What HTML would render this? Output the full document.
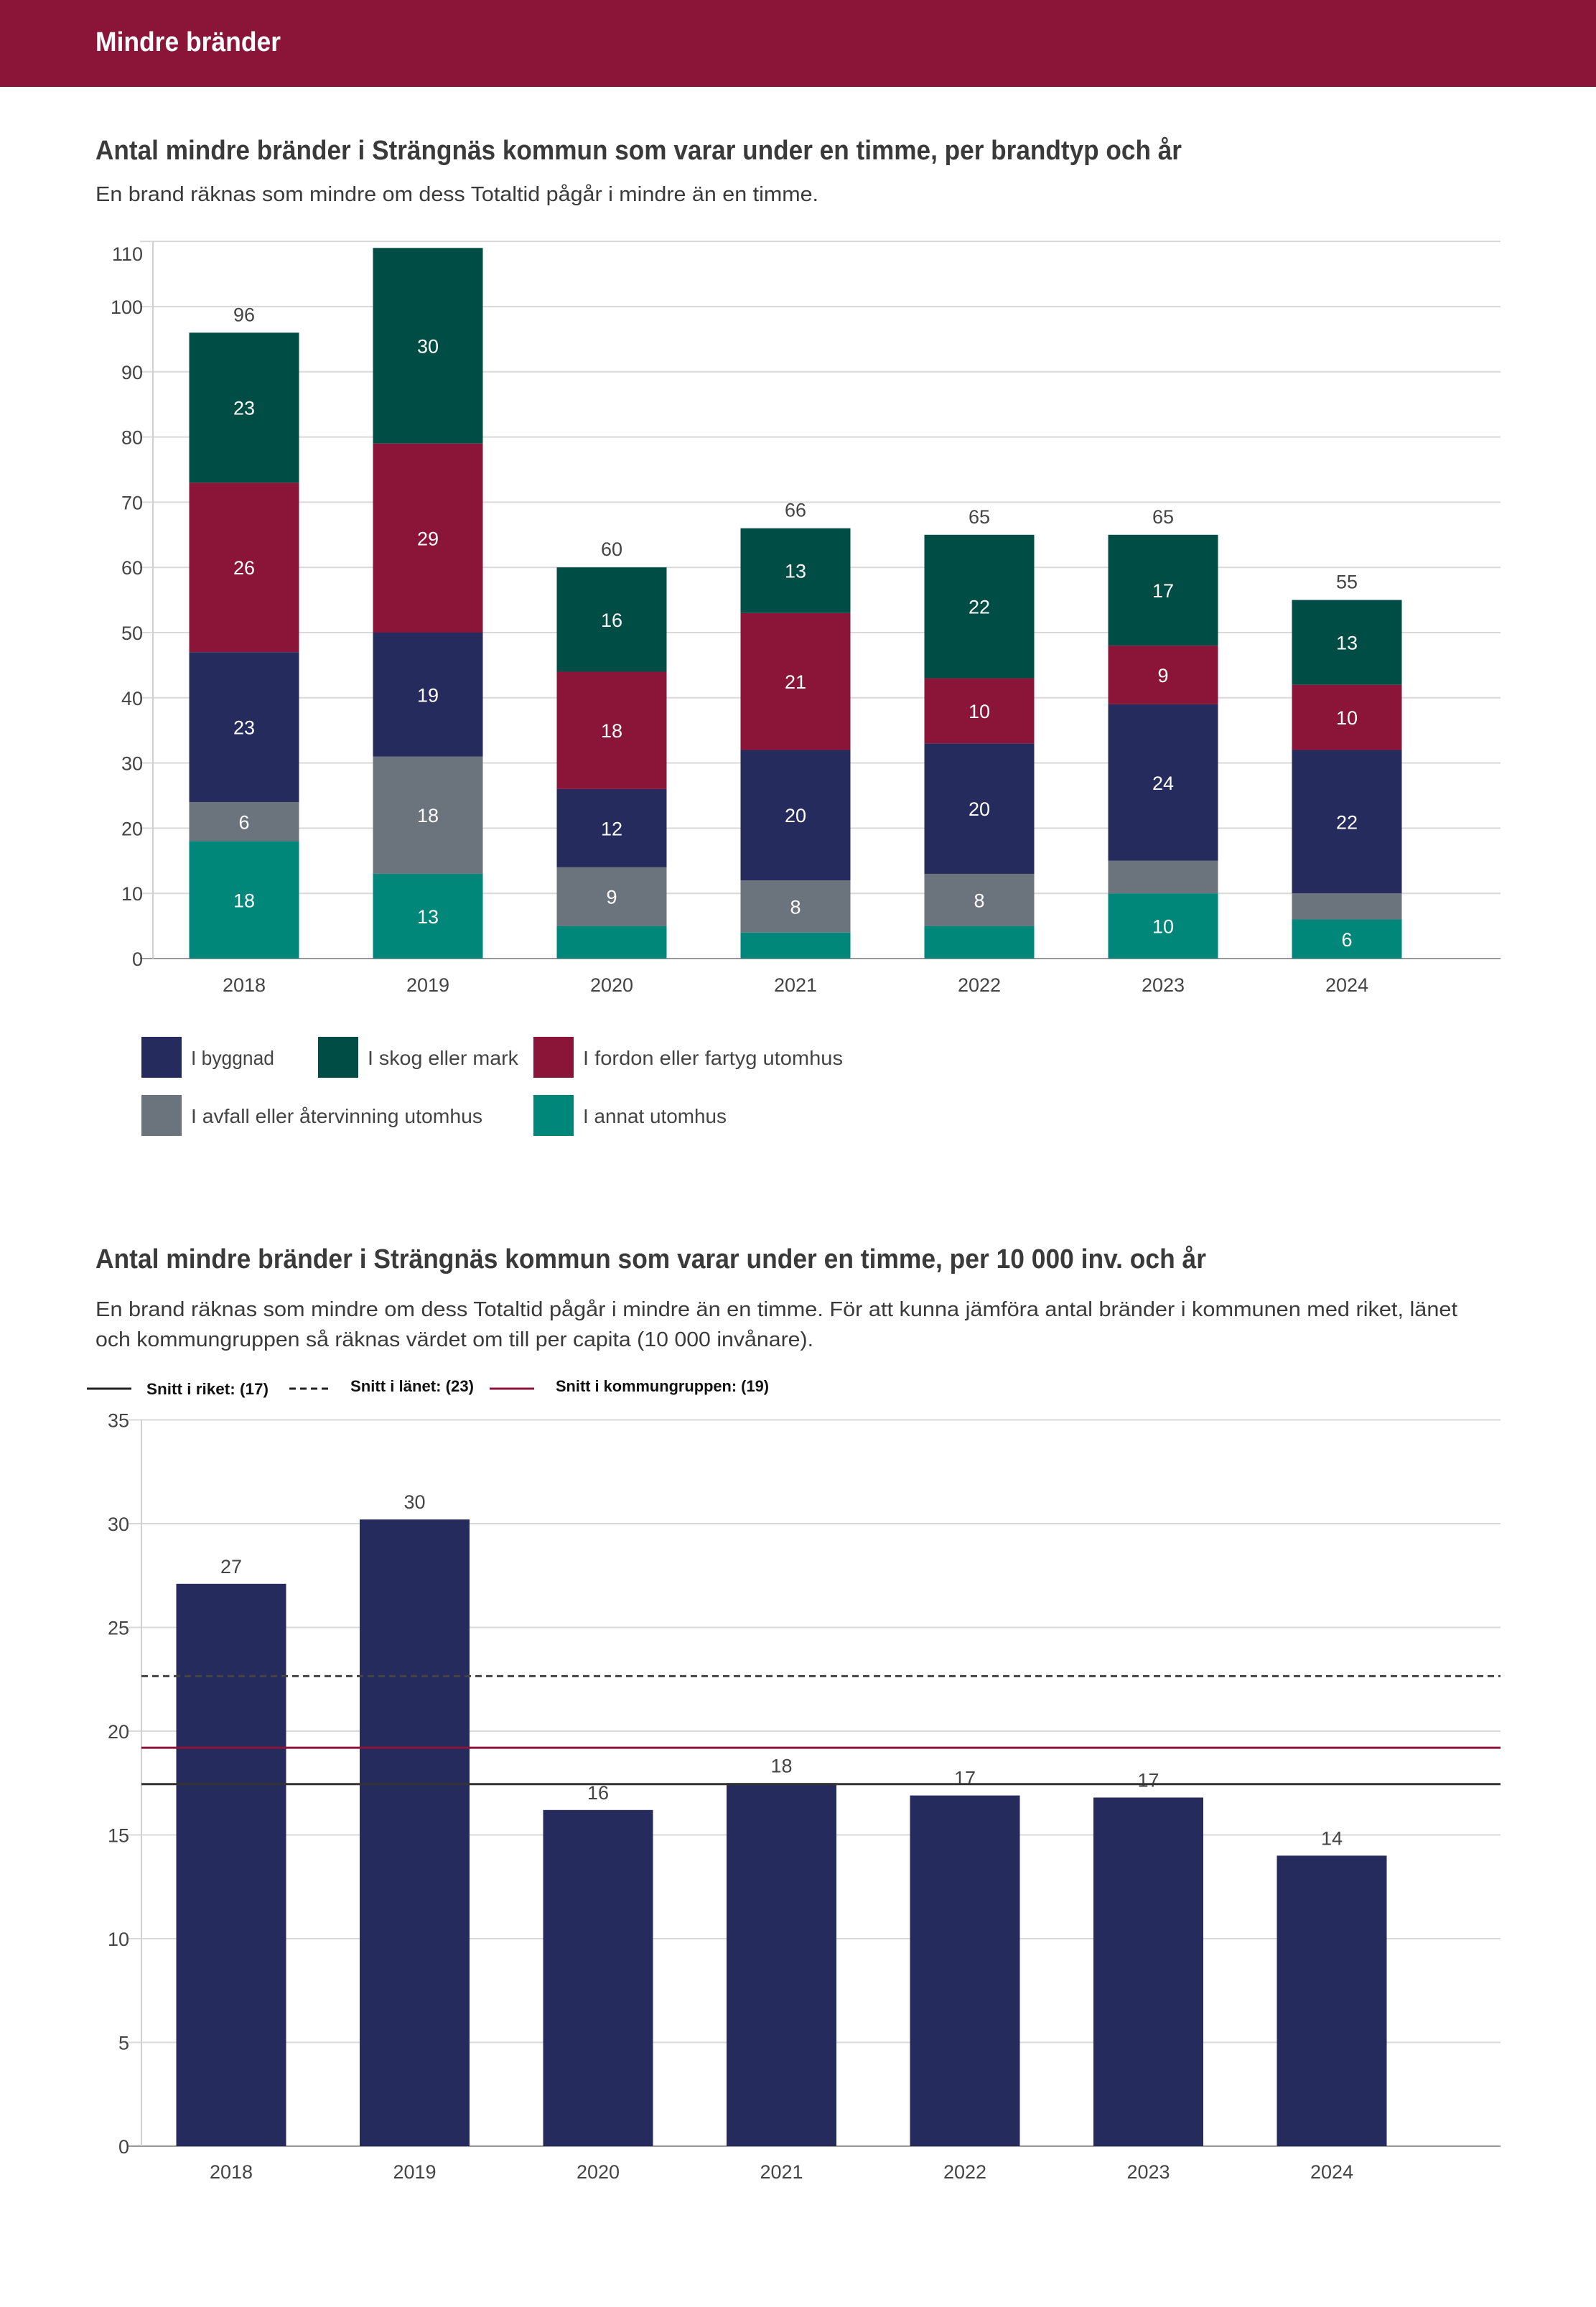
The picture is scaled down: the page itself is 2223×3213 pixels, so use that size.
<!DOCTYPE html>
<html><head><meta charset="utf-8"><style>
html,body{margin:0;padding:0;background:#fff;}
svg{display:block;font-family:"Liberation Sans",sans-serif;}
</style></head><body>
<svg id="page" width="2223" height="3213" viewBox="0 0 2223 3213" xmlns="http://www.w3.org/2000/svg">
<rect x="0" y="0" width="2223" height="121" fill="#8b1538"/>
<text x="133" y="71" font-size="38" font-weight="bold" fill="#fff" textLength="258" lengthAdjust="spacingAndGlyphs">Mindre bränder</text>

<text x="133" y="222" font-size="38" font-weight="bold" fill="#3a3a3a" textLength="1513" lengthAdjust="spacingAndGlyphs">Antal mindre bränder i Strängnäs kommun som varar under en timme, per brandtyp och år</text>
<text x="133" y="280" font-size="29" fill="#3a3a3a" textLength="1007" lengthAdjust="spacingAndGlyphs">En brand räknas som mindre om dess Totaltid pågår i mindre än en timme.</text>
<g id="c1"></g>
<g id="c1leg"></g>

<text x="133" y="1766" font-size="38" font-weight="bold" fill="#3a3a3a" textLength="1547" lengthAdjust="spacingAndGlyphs">Antal mindre bränder i Strängnäs kommun som varar under en timme, per 10 000 inv. och år</text>
<text x="133" y="1833" font-size="29" fill="#3a3a3a" textLength="1897" lengthAdjust="spacingAndGlyphs">En brand räknas som mindre om dess Totaltid pågår i mindre än en timme. För att kunna jämföra antal bränder i kommunen med riket, länet</text>
<text x="133" y="1875" font-size="29" fill="#3a3a3a" textLength="1000" lengthAdjust="spacingAndGlyphs">och kommungruppen så räknas värdet om till per capita (10 000 invånare).</text>
<g>
<line x1="121" y1="1934" x2="183" y2="1934" stroke="#222" stroke-width="3"/>
<text x="204" y="1942" font-size="22" font-weight="bold" fill="#111" textLength="170" lengthAdjust="spacingAndGlyphs">Snitt i riket: (17)</text>
<line x1="403" y1="1934" x2="463" y2="1934" stroke="#222" stroke-width="3" stroke-dasharray="9,6"/>
<text x="488" y="1938" font-size="22" font-weight="bold" fill="#111" textLength="172" lengthAdjust="spacingAndGlyphs">Snitt i länet: (23)</text>
<line x1="682" y1="1934" x2="744" y2="1934" stroke="#8b1538" stroke-width="3"/>
<text x="774" y="1938" font-size="22" font-weight="bold" fill="#111" textLength="297" lengthAdjust="spacingAndGlyphs">Snitt i kommungruppen: (19)</text>
</g>
<g id="c2"></g>
</svg>
<script>
// ---- Chart 1 data ----
const years = ["2018","2019","2020","2021","2022","2023","2024"];
const seriesNames = ["I annat utomhus","I avfall eller återvinning utomhus","I byggnad","I fordon eller fartyg utomhus","I skog eller mark"];
const annat   = [18, 13, 5, 4, 5, 10, 6];
const avfall  = [6, 18, 9, 8, 8, 5, 4];
const byggnad = [23, 19, 12, 20, 20, 24, 22];
const fordon  = [26, 29, 18, 21, 10, 9, 10];
const skog    = [23, 30, 16, 13, 22, 17, 13];
const yTicks1 = [0,10,20,30,40,50,60,70,80,90,100,110];
// ---- Chart 2 data ----
const perCapita = [27.1, 30.2, 16.2, 17.5, 16.9, 16.8, 14.0];
const perCapitaLabels = ["27","30","16","18","17","17","14"];
const yTicks2 = [0,5,10,15,20,25,30,35];
const refRiket = 17.45;
const refLanet = 22.65;
const refGrupp = 19.2;

const NS = "http://www.w3.org/2000/svg";
function mk(parent, tag, attrs, text){
  const e = document.createElementNS(NS, tag);
  for (const k in attrs) e.setAttribute(k, attrs[k]);
  if (text !== undefined) e.textContent = text;
  parent.appendChild(e);
  return e;
}
const colors = ["#00877a","#6b737d","#252b5c","#8b1538","#004d46"];
const series = [annat, avfall, byggnad, fordon, skog];
const slugs = ["annat","avfall","byggnad","fordon","skog"];

// Chart 1 axes
const c1 = document.getElementById("c1");
const c1Left = 213, c1Right = 2090, c1Zero = 1335, c1PerUnit = 9.08;
const y1 = v => c1Zero - v * c1PerUnit;
const x1 = i => 340 + i * 256;
const bw1 = 153;
yTicks1.forEach(t => {
  const l = mk(c1, "line", {x1: c1Left - 18, x2: c1Right, y1: y1(t), y2: y1(t), stroke: t === 0 ? "#999" : "#d9d9d9", "stroke-width": 2});
  
  
  const dy = t === 110 ? 27 : 10;
  const tx = mk(c1, "text", {x: 199, y: y1(t) + dy, "font-size": 27, fill: "#444", "text-anchor": "end"}, String(t));
  
  
});
const ax1 = mk(c1, "line", {x1: c1Left, x2: c1Left, y1: y1(110), y2: c1Zero, stroke: "#d0d0d0", "stroke-width": 2});


years.forEach((yr, i) => {
  let acc = 0;
  series.forEach((s, k) => {
    const v = s[i];
    const r = mk(c1, "rect", {x: x1(i) - bw1/2, y: y1(acc + v), width: bw1, height: v * c1PerUnit, fill: colors[k]});
    
    
    if (v >= 6) {
      const t = mk(c1, "text", {x: x1(i), y: y1(acc + v/2) + 10, "font-size": 27, fill: "#fff", "text-anchor": "middle"}, String(v));
      
      
    }
    acc += v;
  });
  if (acc < 100) {
    const tt = mk(c1, "text", {x: x1(i), y: y1(acc) - 16, "font-size": 27, fill: "#444", "text-anchor": "middle"}, String(acc));
    
    
  }
  const xl = mk(c1, "text", {x: x1(i), y: 1381, "font-size": 27, fill: "#444", "text-anchor": "middle"}, yr);
  
  
});

// Chart 1 legend
const leg = document.getElementById("c1leg");
const legItems = [
  {k:2, x:197, y:1444, w:116}, {k:4, x:443, y:1444, w:210}, {k:3, x:743, y:1444, w:362},
  {k:1, x:197, y:1525, w:406}, {k:0, x:743, y:1525, w:200}
];
legItems.forEach(it => {
  const g = mk(leg, "g", {});
  
  
  mk(g, "rect", {x: it.x, y: it.y, width: 56, height: 57, fill: colors[it.k]});
  mk(g, "text", {x: it.x + 69, y: it.y + 39, "font-size": 28, fill: "#444", textLength: it.w, lengthAdjust: "spacingAndGlyphs"}, seriesNames[it.k]);
});

// Chart 2
const c2 = document.getElementById("c2");
const c2Left = 197, c2Right = 2090, c2Zero = 2989, c2PerUnit = 28.9;
const y2 = v => c2Zero - v * c2PerUnit;
const x2 = i => 322 + i * 255.5;
const bw2 = 153;
yTicks2.forEach(t => {
  const l = mk(c2, "line", {x1: c2Left - 18, x2: c2Right, y1: y2(t), y2: y2(t), stroke: t === 0 ? "#999" : "#d9d9d9", "stroke-width": 2});
  
  
  const tx = mk(c2, "text", {x: 180, y: y2(t) + 10, "font-size": 27, fill: "#444", "text-anchor": "end"}, String(t));
  
  
});
const ax2 = mk(c2, "line", {x1: c2Left, x2: c2Left, y1: y2(35), y2: c2Zero, stroke: "#d0d0d0", "stroke-width": 2});


years.forEach((yr, i) => {
  const v = perCapita[i];
  const r = mk(c2, "rect", {x: x2(i) - bw2/2, y: y2(v), width: bw2, height: v * c2PerUnit, fill: "#252b5c"});
  
  
  const t = mk(c2, "text", {x: x2(i), y: y2(v) - 15, "font-size": 27, fill: "#444", "text-anchor": "middle"}, perCapitaLabels[i]);
  
  
  const xl = mk(c2, "text", {x: x2(i), y: 3034, "font-size": 27, fill: "#444", "text-anchor": "middle"}, yr);
  
  
});
const lLan = mk(c2, "line", {x1: c2Left, x2: c2Right, y1: y2(refLanet), y2: y2(refLanet), stroke: "#444", "stroke-width": 3, "stroke-dasharray": "9,6"});


const lGr = mk(c2, "line", {x1: c2Left, x2: c2Right, y1: y2(refGrupp), y2: y2(refGrupp), stroke: "#8b1538", "stroke-width": 3});


const lRi = mk(c2, "line", {x1: c2Left, x2: c2Right, y1: y2(refRiket), y2: y2(refRiket), stroke: "#333", "stroke-width": 3});


</script>
</body></html>
